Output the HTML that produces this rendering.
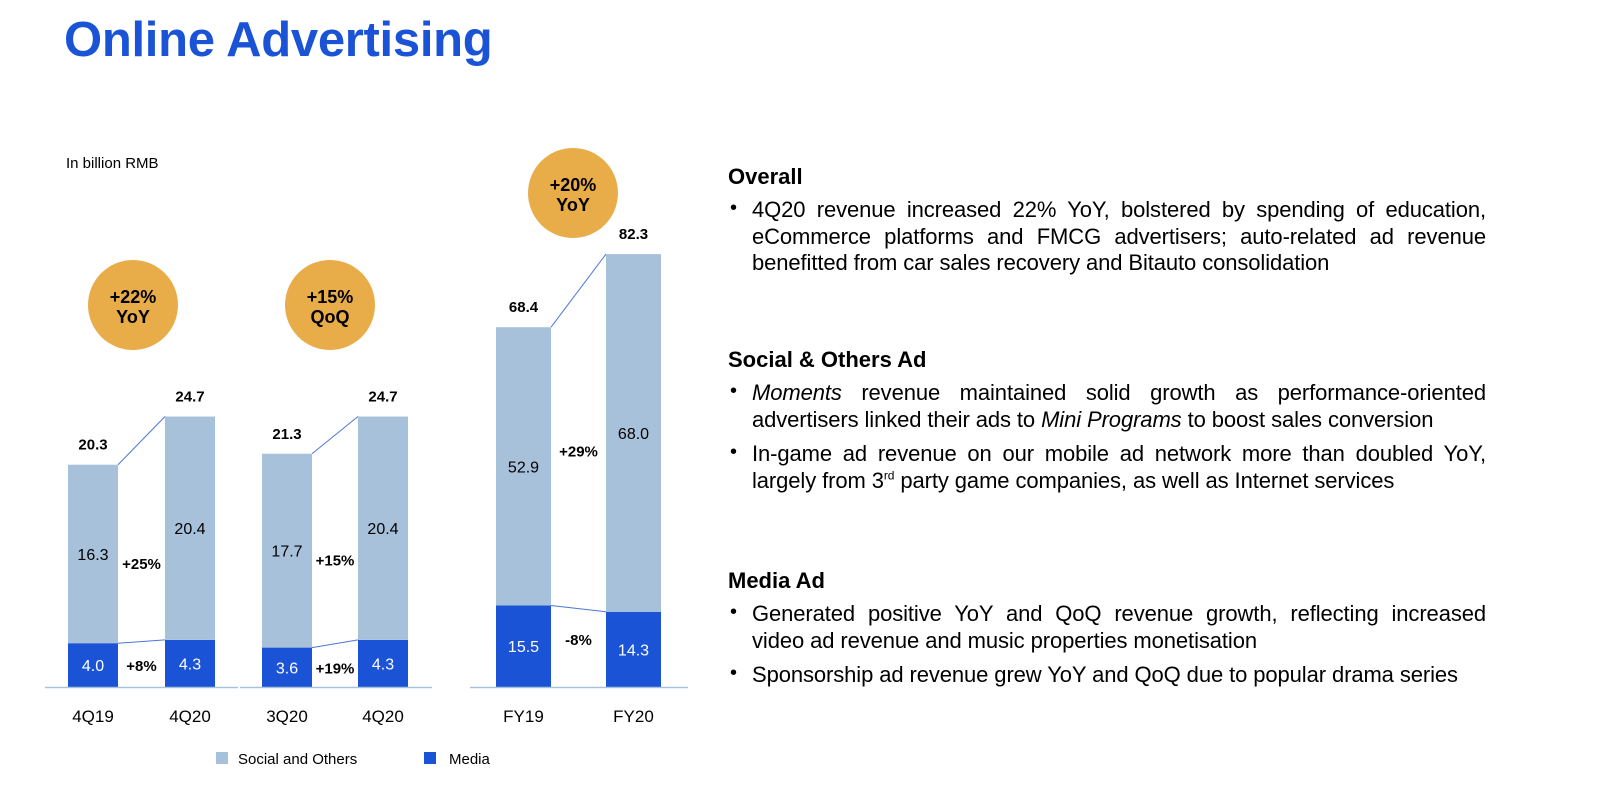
<!DOCTYPE html>
<html><head><meta charset="utf-8">
<style>
body{margin:0;width:1600px;height:809px;background:#fff;font-family:"Liberation Sans",Arial,sans-serif;position:relative;overflow:hidden;color:#000}
#title{position:absolute;left:64px;top:12px;font-size:49px;font-weight:bold;color:#1a53d6;letter-spacing:-0.3px}
#unit{position:absolute;left:66px;top:155px;font-size:15px}
.sec{position:absolute;left:728px;width:758px}
.sec h3{margin:0 0 7px 0;font-size:22px;font-weight:bold}
.sec ul{margin:0;padding:0;list-style:none}
.sec li{position:relative;padding-left:24px;font-size:22px;line-height:26.5px;text-align:justify;margin-bottom:8px;letter-spacing:-0.1px}
.sec li:before{content:"•";position:absolute;left:2px;top:-2px;font-size:20px}
svg{position:absolute;left:0;top:0}
</style></head><body>
<div id="title">Online Advertising</div>
<div id="unit">In billion RMB</div>

<div class="sec" style="top:164px">
<h3>Overall</h3>
<ul><li>4Q20 revenue increased 22% YoY, bolstered by spending of education, eCommerce platforms and FMCG advertisers; auto-related ad revenue benefitted from car sales recovery and Bitauto consolidation</li></ul>
</div>
<div class="sec" style="top:347px">
<h3>Social &amp; Others Ad</h3>
<ul><li><i>Moments</i> revenue maintained solid growth as performance-oriented advertisers linked their ads to <i>Mini Programs</i> to boost sales conversion</li>
<li>In-game ad revenue on our mobile ad network more than doubled YoY, largely from 3<sup style="font-size:12px;line-height:0">rd</sup> party game companies, as well as Internet services</li></ul>
</div>
<div class="sec" style="top:568px">
<h3>Media Ad</h3>
<ul><li>Generated positive YoY and QoQ revenue growth, reflecting increased video ad revenue and music properties monetisation</li>
<li>Sponsorship ad revenue grew YoY and QoQ due to popular drama series</li></ul>
</div>

<svg id="chart" width="1600" height="809"></svg>
<script>
const categories = [["4Q19","4Q20"],["3Q20","4Q20"],["FY19","FY20"]];
const mediaValues = [[4.0,4.3],[3.6,4.3],[15.5,14.3]];
const socialValues = [[16.3,20.4],[17.7,20.4],[52.9,68.0]];
const totalLabels = [["20.3","24.7"],["21.3","24.7"],["68.4","82.3"]];
const socialGrowth = ["+25%","+15%","+29%"];
const mediaGrowth = ["+8%","+19%","-8%"];
const badgeText = [["+22%","YoY"],["+15%","QoQ"],["+20%","YoY"]];

const NS="http://www.w3.org/2000/svg";
const svg=document.getElementById('chart');
function mk(tag,attrs,parent){const e=document.createElementNS(NS,tag);for(const k in attrs)e.setAttribute(k,attrs[k]);(parent||svg).appendChild(e);return e;}
const base=687;
const panels=[
 {x:[68,165],w:50,scale:10.95,axis:[45,238],badge:[133,305]},
 {x:[262,358],w:50,scale:10.95,axis:[240,432],badge:[330,305]},
 {x:[496,606],w:55,scale:5.26,axis:[470,688],badge:[573,193]}
];
const lightC="#a8c1db", darkC="#1a53d6";
panels.forEach((p,i)=>{
  const y=v=>base-v*p.scale;
  const g=mk('g',{});
  
  
  const tops=[],mtops=[];
  for(let j=0;j<2;j++){
    const x=p.x[j], m=mediaValues[i][j], s=socialValues[i][j];
    const r1=mk('rect',{x:x,y:y(m),width:p.w,height:base-y(m),fill:darkC},g);
    
    
    const r2=mk('rect',{x:x,y:y(m+s),width:p.w,height:y(m)-y(m+s),fill:lightC},g);
    
    
    tops.push(y(m+s));mtops.push(y(m));
    const cx=x+p.w/2;
    let t=mk('text',{x:cx,y:(y(m)+base)/2+6,'text-anchor':'middle','font-size':16,fill:'#fff'},g);t.textContent=m.toFixed(1);
    
    t=mk('text',{x:cx,y:(y(m)+y(m+s))/2+6,'text-anchor':'middle','font-size':16,fill:'#000'},g);t.textContent=s.toFixed(1);
    
    t=mk('text',{x:cx,y:y(m+s)-15,'text-anchor':'middle','font-size':15,'font-weight':'bold'},g);t.textContent=totalLabels[i][j];
    
    t=mk('text',{x:cx,y:722,'text-anchor':'middle','font-size':17},g);t.textContent=categories[i][j];
    
  }
  const x1=p.x[0]+p.w,x2=p.x[1];
  let l=mk('line',{x1:x1,y1:tops[0],x2:x2,y2:tops[1],stroke:'#4a78d8','stroke-width':1},g);
  
  l=mk('line',{x1:x1,y1:mtops[0],x2:x2,y2:mtops[1],stroke:'#4a78d8','stroke-width':1},g);
  
  const mx=(x1+x2)/2;
  let t=mk('text',{x:mx,y:(mtops[0]+tops[0])/2+(i==2?-10:15),'text-anchor':'middle','font-size':15,'font-weight':'bold'},g);t.textContent=socialGrowth[i];
  
  t=mk('text',{x:mx,y:(mtops[0]+base)/2+(i==2?-1:6),'text-anchor':'middle','font-size':15,'font-weight':'bold'},g);t.textContent=mediaGrowth[i];
  
  l=mk('line',{x1:p.axis[0],y1:base+0.5,x2:p.axis[1],y2:base+0.5,stroke:'#a8c1db','stroke-width':1.5},g);
  
  const c=mk('circle',{cx:p.badge[0],cy:p.badge[1],r:45,fill:'#e8ad48'},g);
  
  t=mk('text',{x:p.badge[0],y:p.badge[1]-2,'text-anchor':'middle','font-size':18,'font-weight':'bold'},g);t.textContent=badgeText[i][0];
  
  t=mk('text',{x:p.badge[0],y:p.badge[1]+18,'text-anchor':'middle','font-size':18,'font-weight':'bold'},g);t.textContent=badgeText[i][1];
  
});
const lg=mk('g',{});


let r=mk('rect',{x:216,y:752,width:12,height:12,fill:lightC},lg);

let t=mk('text',{x:238,y:764,'font-size':15},lg);t.textContent='Social and Others';

r=mk('rect',{x:424,y:752,width:12,height:12,fill:darkC},lg);

t=mk('text',{x:449,y:764,'font-size':15},lg);t.textContent='Media';

</script>
</body></html>
